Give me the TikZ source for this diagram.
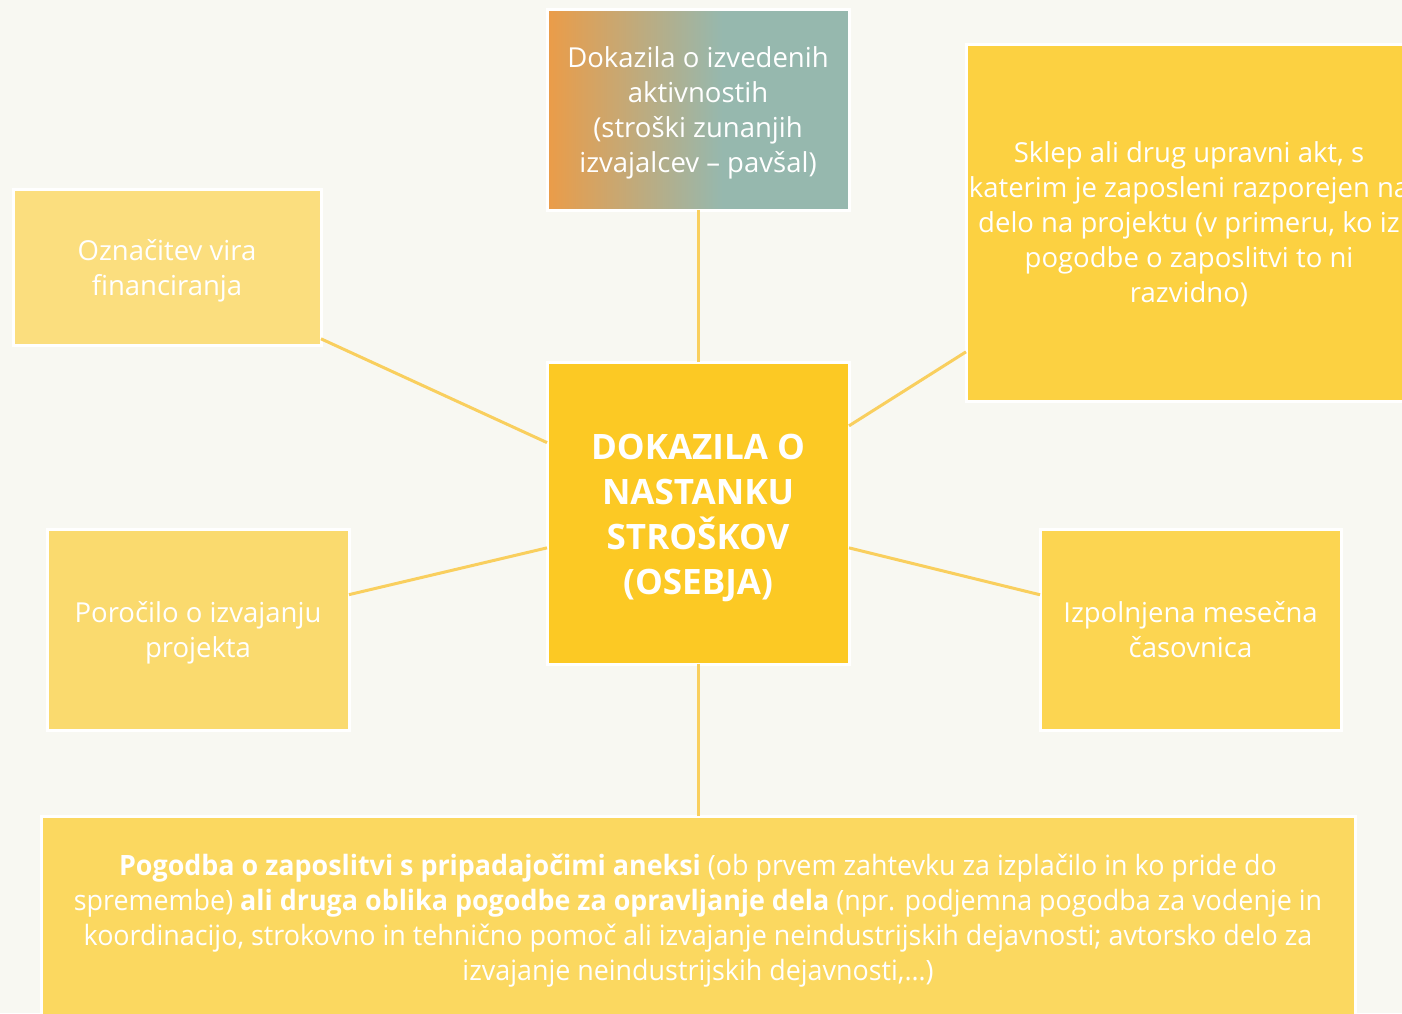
\documentclass[tikz,border=0pt]{standalone}
\usepackage{fontspec}
\setmainfont{Open Sans}
\newfontfamily\condfont[FakeStretch=0.96]{Open Sans}
\definecolor{bgc}{HTML}{F8F8F2}
\definecolor{cent}{HTML}{FCC924}
\definecolor{rtc}{HTML}{FCD141}
\definecolor{ltc}{HTML}{FBDE7E}
\definecolor{lbc}{HTML}{FADA6E}
\definecolor{rbc}{HTML}{FCD551}
\definecolor{botc}{HTML}{FBD860}
\definecolor{linkc}{HTML}{F9CF5E}
\definecolor{gorange}{HTML}{EB9C48}
\definecolor{gteal}{HTML}{96B8AE}
\pgfdeclarehorizontalshading{topgrad}{100bp}{color(0bp)=(gorange); color(25bp)=(gorange); color(54bp)=(gteal); color(100bp)=(gteal)}
\tikzset{
  box/.style={draw=white, line width=3pt, rectangle, inner sep=0pt, outer sep=0pt},
  boxtext/.style={text=white, align=center, inner sep=0pt, yshift=-3pt, font=\fontsize{27.5}{35}\selectfont},
  link/.style={draw=linkc, line width=3pt}
}
\begin{document}
\begin{tikzpicture}[x=1pt,y=-1pt]
\useasboundingbox (0,0) rectangle (1402,1013);
\fill[bgc] (0,0) rectangle (1402,1013);
% boxes
\node[box, fill=cent, minimum width=302pt, minimum height=302pt] (c) at (698,513) {};
\node[box, shading=topgrad, minimum width=302pt, minimum height=201pt] (t) at (698,109.5) {};
\node[box, fill=rtc, minimum width=448pt, minimum height=357pt] (rt) at (1190,222.5) {};
\node[box, fill=ltc, minimum width=308pt, minimum height=156pt] (lt) at (167,267) {};
\node[box, fill=lbc, minimum width=302pt, minimum height=201pt] (lb) at (198,629.5) {};
\node[box, fill=rbc, minimum width=301pt, minimum height=201pt] (rb) at (1190.5,629.5) {};
\node[box, fill=botc, minimum width=1314pt, minimum height=210pt] (b) at (698,921) {};
% texts
\node[boxtext, yshift=-1.5pt, font=\fontsize{35}{45}\selectfont\bfseries] (ct) at (c.center) {DOKAZILA O\\NASTANKU\\STROŠKOV\\(OSEBJA)};
\node[boxtext] (tt) at (t.center) {Dokazila o izvedenih\\aktivnostih\\(stroški zunanjih\\izvajalcev – pavšal)};
\node[boxtext, xshift=-1pt, yshift=1pt] (rtt) at (rt.center) {Sklep ali drug upravni akt, s\\katerim je zaposleni razporejen na\\delo na projektu (v primeru, ko iz\\pogodbe o zaposlitvi to ni\\razvidno)};
\node[boxtext, yshift=-1pt] (ltt) at (lt.center) {Označitev vira\\financiranja};
\node[boxtext] (lbt) at (lb.center) {Poročilo o izvajanju\\projekta};
\node[boxtext, yshift=3pt] (rbt) at (rb.center) {Izpolnjena mesečna\\časovnica};
\node[boxtext, yshift=3pt, font=\condfont\fontsize{28}{35}\selectfont] (bt) at (b.center) {\textbf{Pogodba o zaposlitvi s pripadajočimi aneksi} (ob prvem zahtevku za izplačilo in ko pride do\\spremembe) \textbf{ali druga oblika pogodbe za opravljanje dela} (npr. podjemna pogodba za vodenje in\\koordinacijo, strokovno in tehnično pomoč ali izvajanje neindustrijskih dejavnosti; avtorsko delo za\\izvajanje neindustrijskih dejavnosti,…)};
% connectors
\draw[link] (t.south) -- (c.north);
\draw[link] (c.south) -- (b.north);
\draw[link] (lt.-25) -- (c.155);
\draw[link] (c.30.5) -- (rt.210.7);
\draw[link] (lb.13) -- (c.193);
\draw[link] (c.-13) -- (rb.167);
\end{tikzpicture}
\end{document}
